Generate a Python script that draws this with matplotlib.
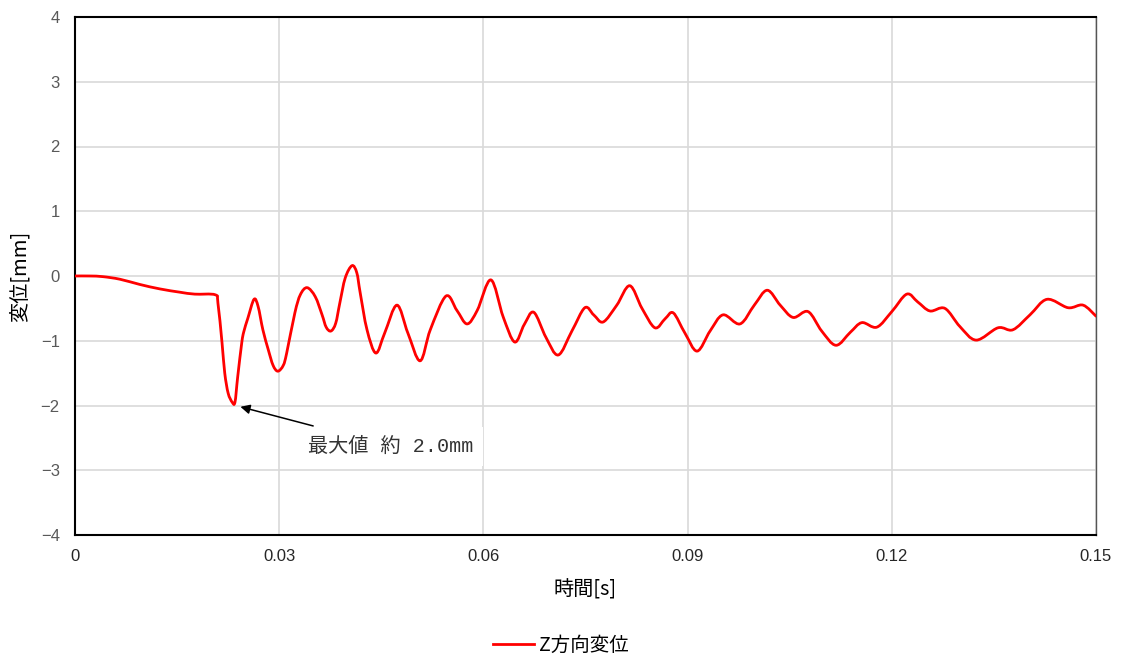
import matplotlib
matplotlib.use("Agg")
import matplotlib.pyplot as plt
import numpy as np
from matplotlib.path import Path
from matplotlib.patches import PathPatch

plt.rcParams['font.family'] = ['Noto Sans CJK JP', 'DejaVu Sans']

time_s = [0.0, 0.0022, 0.0041, 0.0066, 0.0095, 0.0125, 0.0154, 0.0176, 0.0206, 0.0210,
          0.0216, 0.0220, 0.0225, 0.0231, 0.0235, 0.0239, 0.0245, 0.0248, 0.0254, 0.0263,
          0.0269, 0.0276, 0.0284, 0.0291, 0.0298, 0.0306, 0.0311, 0.0323, 0.0331, 0.0341,
          0.0353, 0.0363, 0.0369, 0.0376, 0.0383, 0.0389, 0.0397, 0.0407, 0.0414, 0.0419,
          0.0429, 0.0442, 0.0455, 0.0473, 0.0489, 0.0507, 0.0522, 0.0545, 0.0561, 0.0576,
          0.0591, 0.0611, 0.0629, 0.0646, 0.0660,
          0.0674, 0.0692, 0.0710, 0.0730, 0.0749, 0.0762, 0.0776, 0.0796, 0.0815, 0.0833,
          0.0852, 0.0867, 0.0879, 0.0896, 0.0914, 0.0933, 0.0952, 0.0977, 0.0998, 0.1017,
          0.1036, 0.1055, 0.1077, 0.1097, 0.1118, 0.1139, 0.1156, 0.1178, 0.1200, 0.1222,
          0.1238, 0.1256, 0.1278, 0.1300, 0.1324, 0.1356, 0.1378, 0.1403, 0.1428, 0.1459,
          0.1481, 0.1500]
z_disp = [0.0, 0.0, -0.01, -0.05, -0.13, -0.20, -0.25, -0.28, -0.29, -0.42,
          -1.03, -1.50, -1.81, -1.95, -1.95, -1.56, -1.03, -0.86, -0.65, -0.36,
          -0.47, -0.83, -1.14, -1.38, -1.47, -1.38, -1.19, -0.57, -0.29, -0.18,
          -0.32, -0.60, -0.79, -0.85, -0.73, -0.42, -0.03, 0.16, 0.05, -0.26,
          -0.83, -1.19, -0.88, -0.45, -0.88, -1.31, -0.83, -0.31, -0.53, -0.74,
          -0.53, -0.06, -0.63, -1.02, -0.75,
          -0.56, -0.95, -1.22, -0.85, -0.49, -0.60, -0.71, -0.45, -0.15, -0.50,
          -0.80, -0.66, -0.57, -0.88, -1.16, -0.85, -0.60, -0.74, -0.45, -0.22,
          -0.45, -0.64, -0.55, -0.85, -1.07, -0.87, -0.72, -0.79, -0.55, -0.28,
          -0.40, -0.54, -0.50, -0.78, -0.99, -0.80, -0.83, -0.60, -0.36, -0.49,
          -0.45, -0.62]

x_ticks = [0, 0.03, 0.06, 0.09, 0.12, 0.15]
x_tick_labels = ["0", "0.03", "0.06", "0.09", "0.12", "0.15"]
y_ticks = [4, 3, 2, 1, 0, -1, -2, -3, -4]
y_tick_labels = ["4", "3", "2", "1", "0", "\u22121", "\u22122", "\u22123", "\u22124"]

fig = plt.figure(figsize=(11.22, 6.58), dpi=100)
ax = fig.add_axes([75/1122, 1-535/658, (1096-75)/1122, (535-17)/658])

# smoothed line (Excel-style) through the data points using Catmull-Rom Bezier segments
pts = np.column_stack([time_s, z_disp])
n = len(pts)
verts = [pts[0]]
codes = [Path.MOVETO]
for i in range(n - 1):
    p0 = pts[i - 1] if i > 0 else pts[i]
    p1 = pts[i]
    p2 = pts[i + 1]
    p3 = pts[i + 2] if i + 2 < n else pts[i + 1]
    c1 = p1 + (p2 - p0) / 6.0
    c2 = p2 - (p3 - p1) / 6.0
    verts += [c1, c2, p2]
    codes += [Path.CURVE4] * 3
ax.add_patch(PathPatch(Path(verts, codes), fc='none', ec='#ff0000', lw=2,
                       capstyle='round', joinstyle='round', zorder=3))
ax.plot([], [], color='#ff0000', lw=2, label='Z方向変位')

ax.set_xlim(0, 0.15)
ax.set_ylim(-4, 4)
ax.set_xticks(x_ticks)
ax.set_xticklabels(x_tick_labels, fontsize=12, color='#262626',
                   family=['Liberation Sans', 'DejaVu Sans'])
ax.set_yticks(y_ticks)
ax.set_yticklabels(y_tick_labels, fontsize=12, color='#595959',
                   family=['Liberation Sans', 'DejaVu Sans'])
ax.tick_params(axis='x', length=0, pad=10)
ax.tick_params(axis='y', length=0, pad=11)
ax.grid(True, color='#d9d9d9', lw=1.2)
ax.set_axisbelow(True)
for s in ax.spines.values():
    s.set_color('black')
    s.set_linewidth(1.5)
ax.spines['right'].set_color('#555555')
ax.spines['right'].set_linewidth(1)

ax.set_xlabel('時間[s]', fontsize=14.5, labelpad=11, color='black')
ax.set_ylabel('変位[mm]', fontsize=14.5, labelpad=7, color='black')

ax.annotate('最大値 約 2.0mm', xy=(0.0243, -2.02), xytext=(0.0342, -2.63),
            fontsize=14.5, color='#333333', va='center', ha='left',
            family=['Liberation Mono', 'Noto Sans CJK JP'],
            bbox=dict(boxstyle='square,pad=0.5', fc='white', ec='none'),
            arrowprops=dict(arrowstyle='-|>', color='black', lw=1.1,
                            shrinkA=2, shrinkB=0, mutation_scale=14))

fig.legend(loc='center', bbox_to_anchor=(0.5, 1-645/658), frameon=False,
           fontsize=14, handlelength=2.1, handletextpad=0.3)

fig.savefig('out.png', dpi=100)
